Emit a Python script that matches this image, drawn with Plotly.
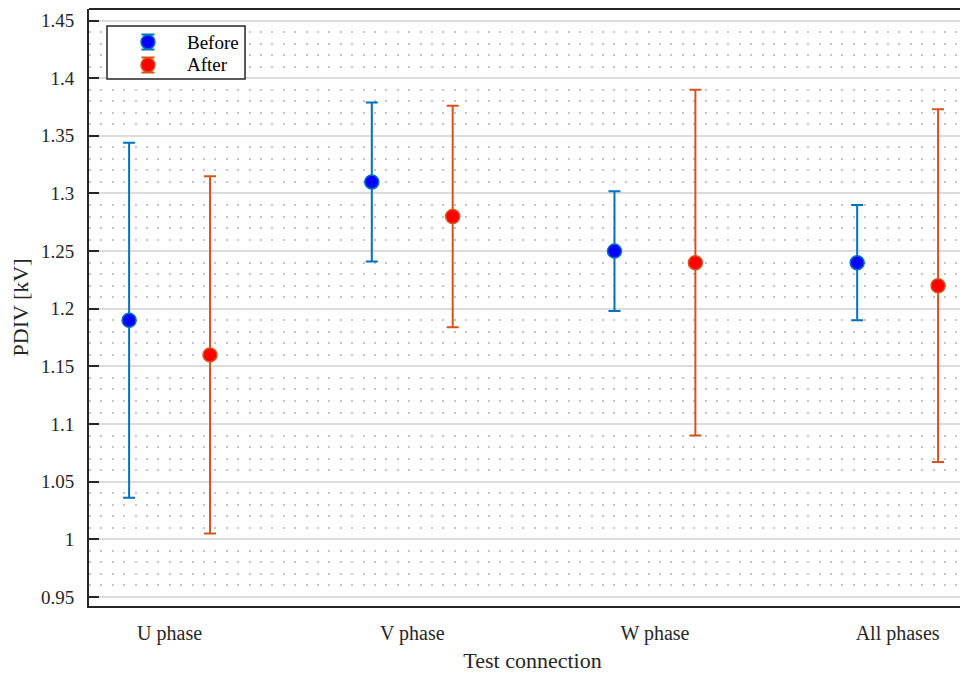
import plotly.graph_objects as go

categories = ["U phase", "V phase", "W phase", "All phases"]
before_mean = [1.19, 1.31, 1.25, 1.24]
before_err = [0.154, 0.069, 0.052, 0.050]
after_mean = [1.16, 1.28, 1.24, 1.22]
after_err = [0.155, 0.096, 0.150, 0.153]
series_names = ["Before", "After"]

cat_pos = [1, 2, 3, 4]
offset = 1 / 6
FONT = "Liberation Serif"
BLUE_EDGE, BLUE_FILL = "#0072BD", "#0000FF"
RED_EDGE, RED_FILL = "#D95319", "#FF0000"

fig = go.Figure()
fig.add_trace(go.Scatter(
    x=[p - offset for p in cat_pos], y=before_mean, mode="markers", name=series_names[0],
    marker=dict(size=14, color=BLUE_FILL, line=dict(color=BLUE_EDGE, width=1.5)),
    error_y=dict(type="data", array=before_err, visible=True, color=BLUE_EDGE,
                 thickness=2, width=6),
))
fig.add_trace(go.Scatter(
    x=[p + offset for p in cat_pos], y=after_mean, mode="markers", name=series_names[1],
    marker=dict(size=14, color=RED_FILL, line=dict(color=RED_EDGE, width=1.5)),
    error_y=dict(type="data", array=after_err, visible=True, color=RED_EDGE,
                 thickness=2, width=6),
))

# top axis border line
shapes = [dict(type="line", xref="paper", yref="paper", x0=0, x1=1, y0=1, y1=1,
               line=dict(color="#262626", width=2), layer="above")]
# custom legend (layout decoration in paper coordinates)
shapes.append(dict(type="rect", xref="paper", yref="paper", x0=0.0203, x1=0.1759,
                   y0=0.8827, y1=0.9715, line=dict(color="#262626", width=1.5),
                   fillcolor="white", layer="above"))
annotations = []
rows = [(0.9447, BLUE_EDGE, BLUE_FILL, series_names[0]),
        (0.9062, RED_EDGE, RED_FILL, series_names[1])]
for ya, edge, fill, name in rows:
    common = dict(xref="paper", yref="paper", xsizemode="pixel", ysizemode="pixel",
                  xanchor=0.0665, yanchor=ya, layer="above")
    shapes.append(dict(type="line", x0=0, x1=0, y0=-7.5, y1=7.5,
                       line=dict(color=edge, width=2), **common))
    shapes.append(dict(type="line", x0=-6.5, x1=6.5, y0=7.5, y1=7.5,
                       line=dict(color=edge, width=2), **common))
    shapes.append(dict(type="line", x0=-6.5, x1=6.5, y0=-7.5, y1=-7.5,
                       line=dict(color=edge, width=2), **common))
    shapes.append(dict(type="circle", x0=-7, x1=7, y0=-7, y1=7, fillcolor=fill,
                       line=dict(color=edge, width=1.5), **common))
    annotations.append(dict(xref="paper", yref="paper", x=0.1082, y=ya, xanchor="left",
                            yanchor="middle", text=name, showarrow=False,
                            font=dict(family=FONT, size=19, color="#000000")))

fig.update_layout(
    width=968, height=673,
    margin=dict(l=81, r=0, t=1, b=75, autoexpand=False),
    paper_bgcolor="white", plot_bgcolor="white",
    font=dict(family=FONT, size=19, color="#262626"),
    showlegend=False,
    shapes=shapes, annotations=annotations,
    xaxis=dict(
        range=[0.668, 4.323], tickvals=cat_pos, ticktext=categories,
        showgrid=False, zeroline=False, ticks="", ticklabelstandoff=8,
        showline=True, linecolor="#262626", linewidth=2, mirror=False,
        title=dict(text="Test connection", font=dict(family=FONT, size=22), standoff=9),
        tickfont=dict(family=FONT, size=20),
    ),
    yaxis=dict(
        range=[0.9422, 1.46], tickvals=[0.95, 1.0, 1.05, 1.1, 1.15, 1.2, 1.25, 1.3, 1.35, 1.4, 1.45],
        ticktext=["0.95", "1", "1.05", "1.1", "1.15", "1.2", "1.25", "1.3", "1.35", "1.4", "1.45"],
        showgrid=True, gridcolor="#dcdcdc", gridwidth=1.5, zeroline=False,
        ticks="inside", ticklen=10, tickwidth=2, tickcolor="#262626", ticklabelstandoff=9,
        showline=True, linecolor="#262626", linewidth=2, mirror=False,
        minor=dict(dtick=0.01, tick0=0.95, showgrid=True, gridcolor="#c4c4c4",
                   griddash="2px,9.4px", gridwidth=1.5, ticks=""),
        title=dict(text="PDIV [kV]", font=dict(family=FONT, size=22), standoff=8),
        tickfont=dict(family=FONT, size=19),
    ),
)

fig.write_html("out.html")
